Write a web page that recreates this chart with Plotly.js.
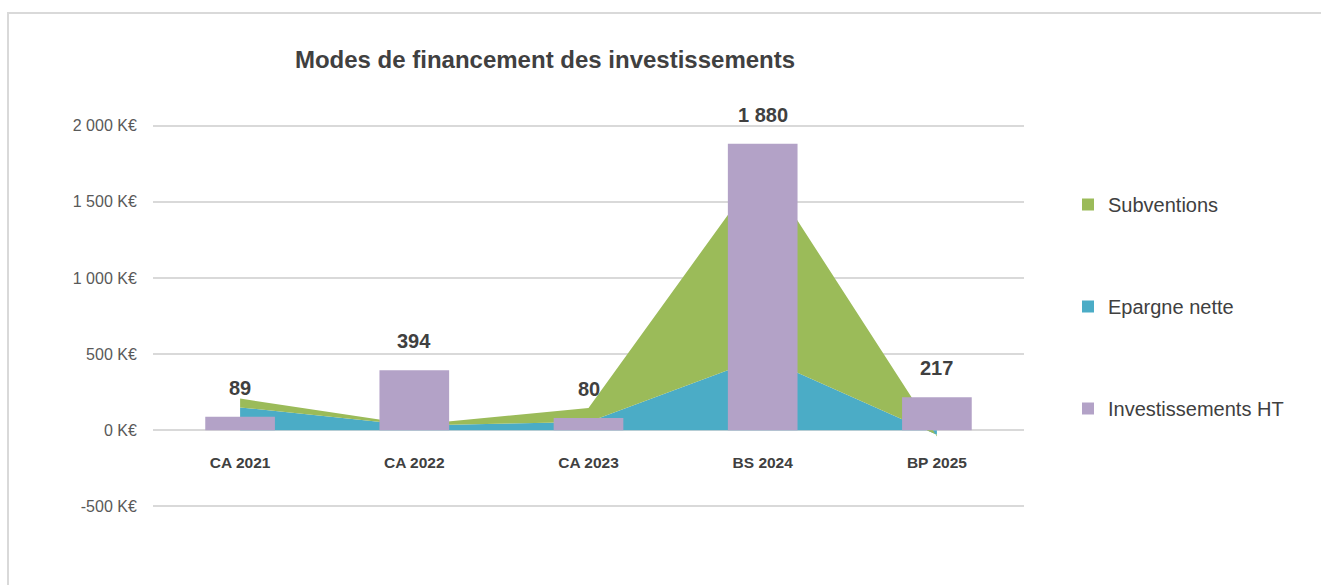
<!DOCTYPE html>
<html>
<head>
<meta charset="utf-8">
<script src="https://cdn.plot.ly/plotly-3.0.1.min.js"></script>
<style>
  html, body { margin: 0; padding: 0; background: #ffffff; overflow: hidden; }
  #wrap { position: relative; width: 1321px; height: 585px; }
  #chart { position: absolute; left: 0; top: 0; width: 1321px; height: 585px; }
  #frame { position: absolute; left: 7px; top: 12px; width: 1330px; height: 600px;
           border-top: 2px solid #d9d9d9; border-left: 2px solid #d9d9d9; pointer-events: none; }
</style>
</head>
<body>
<div id="wrap">
  <div id="chart"></div>
  <div id="frame"></div>
</div>
<script>
// ---- Data ----
const categories = ['CA 2021', 'CA 2022', 'CA 2023', 'BS 2024', 'BP 2025'];
const epargneNette = [150, 32, 54, 480, -30];
const subventions = [58, 5, 92, 1250, -10];
const investissementsHT = [89, 394, 80, 1880, 217];
const yTickValues = [-500, 0, 500, 1000, 1500, 2000];

const seriesNames = ['Subventions', 'Epargne nette', 'Investissements HT'];
const chartTitle = 'Modes de financement des investissements';

// ---- Helpers ----
function fmtThousands(v) {
  const s = Math.abs(Math.round(v)).toString().replace(/\B(?=(\d{3})+(?!\d))/g, ' ');
  return (v < 0 ? '-' : '') + s;
}

// ---- Style ----
const FONT = "'Liberation Sans', Arial, sans-serif";
const C_GREEN = '#9BBB59';
const C_BLUE = '#4BACC6';
const C_PURPLE = '#B3A2C7';
const C_TEXT = '#404040';
const C_TICK = '#595959';
const Y_RANGE = [-510, 2010];
const X_RANGE = [-0.5, 4.5];

const traces = [
  {
    type: 'scatter', x: categories, y: epargneNette, name: seriesNames[1],
    stackgroup: 'one', mode: 'none', fillcolor: C_BLUE,
    line: { width: 0 }, legendgroup: 'g2', legendrank: 2, hoverinfo: 'x+y+name'
  },
  {
    type: 'scatter', x: categories, y: subventions, name: seriesNames[0],
    stackgroup: 'one', mode: 'none', fillcolor: C_GREEN,
    line: { width: 0 }, legendgroup: 'g1', legendrank: 1, hoverinfo: 'x+y+name'
  },
  {
    type: 'bar', x: categories, y: investissementsHT, name: seriesNames[2],
    xaxis: 'x2', yaxis: 'y2', width: 0.4,
    marker: { color: C_PURPLE, line: { width: 0 } },
    legendgroup: 'g3', legendrank: 3
  }
];

const annotations = categories.map((c, i) => ({
  x: c, y: investissementsHT[i], xref: 'x2', yref: 'y2',
  text: fmtThousands(investissementsHT[i]),
  showarrow: false, yanchor: 'middle', yshift: 29,
  font: { family: FONT, size: 20, color: C_TEXT, weight: 'bold' }
}));

const layout = {
  width: 1321, height: 585,
  paper_bgcolor: 'rgba(0,0,0,0)', plot_bgcolor: 'rgba(0,0,0,0)',
  margin: { l: 153, r: 297, t: 124, b: 77 },
  barmode: 'overlay',
  title: {
    text: chartTitle, xref: 'container', yref: 'container',
    x: 545 / 1321, xanchor: 'center', y: 1 - 60 / 585, yanchor: 'middle',
    font: { family: FONT, size: 24, color: C_TEXT, weight: 'bold' }
  },
  xaxis: {
    type: 'category', range: X_RANGE, anchor: 'free',
    position: (0 - Y_RANGE[0]) / (Y_RANGE[1] - Y_RANGE[0]),
    showgrid: false, showline: false, zeroline: false,
    ticks: 'outside', ticklen: 18, tickcolor: 'rgba(0,0,0,0)',
    tickfont: { family: FONT, size: 15.5, color: C_TEXT, weight: 'bold' },
    fixedrange: true
  },
  yaxis: {
    range: Y_RANGE, tickvals: yTickValues,
    ticktext: yTickValues.map(v => fmtThousands(v) + ' K€'),
    showgrid: true, gridcolor: '#d9d9d9', gridwidth: 2,
    zeroline: true, zerolinecolor: '#d9d9d9', zerolinewidth: 2,
    showline: false, ticks: 'outside', ticklen: 12, tickcolor: 'rgba(0,0,0,0)',
    tickfont: { family: FONT, size: 16, color: C_TICK },
    fixedrange: true
  },
  xaxis2: {
    type: 'category', overlaying: 'x', anchor: 'y2', range: X_RANGE,
    visible: false, fixedrange: true
  },
  yaxis2: {
    overlaying: 'y', anchor: 'x2', range: Y_RANGE,
    visible: false, fixedrange: true
  },
  legend: {
    xref: 'container', yref: 'container',
    x: 1068 / 1321, xanchor: 'left', y: 1 - 185 / 585, yanchor: 'top',
    traceorder: 'grouped', tracegroupgap: 73, itemwidth: 30,
    font: { family: FONT, size: 20, color: C_TEXT },
    bgcolor: 'rgba(0,0,0,0)'
  },
  annotations: annotations,
  showlegend: true
};

// Square swatches for the area series in the legend (like the bar swatch)
function squareLegendSwatches(gd) {
  const items = gd.querySelectorAll('.legend .traces');
  items.forEach(item => {
    item.querySelectorAll('.legendfill path').forEach(p => {
      p.setAttribute('d', 'M14,-6h12v12h-12z');
    });
    item.querySelectorAll('.legendlines path').forEach(p => p.setAttribute('d', ''));
  });
}

const gd = document.getElementById('chart');
Plotly.newPlot(gd, traces, layout, { displayModeBar: false }).then(() => {
  squareLegendSwatches(gd);
  gd.on('plotly_afterplot', () => squareLegendSwatches(gd));
});
</script>
</body>
</html>
